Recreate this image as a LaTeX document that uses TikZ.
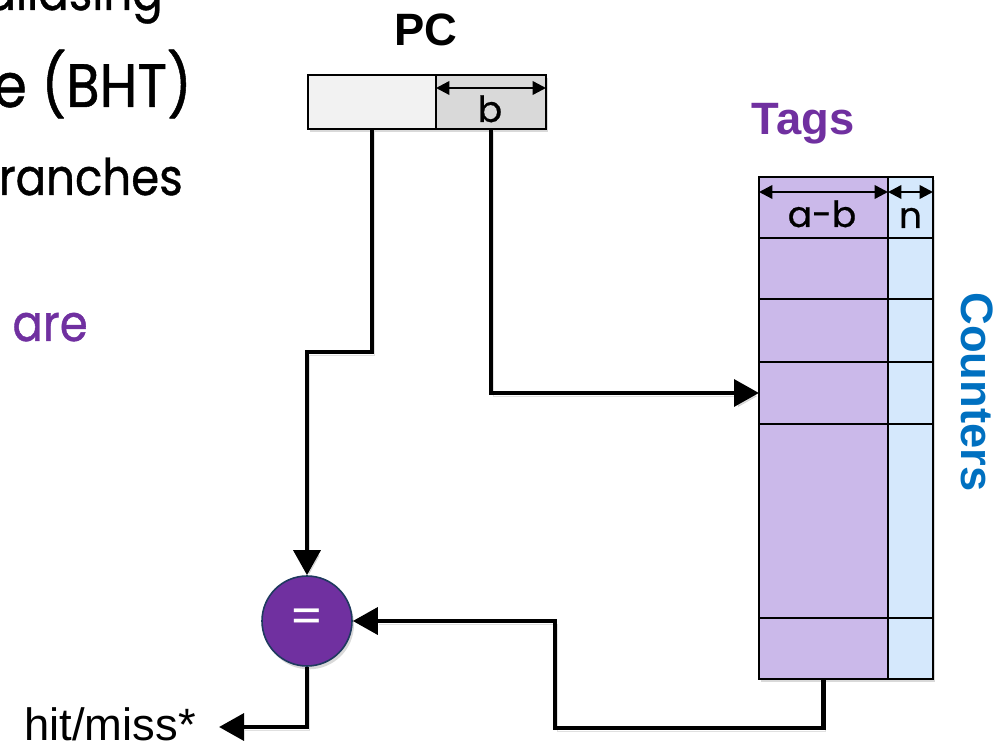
\documentclass[tikz,border=0pt]{standalone}
\usepackage{fontspec}
\setmainfont{Liberation Sans}
\newfontfamily\fut[FakeStretch=0.89,FakeBold=0.8]{Poppins}
\newfontfamily\futw[FakeBold=0.6]{Poppins}
\newfontfamily\futl{Poppins}
\usetikzlibrary{arrows.meta,shadows,calc}
\definecolor{ppl}{HTML}{7030A0}
\definecolor{blu}{HTML}{0070C0}
\definecolor{tagfill}{RGB}{203,185,234}
\definecolor{cntfill}{RGB}{213,232,252}
\definecolor{pcl}{HTML}{F2F2F2}
\definecolor{pcr}{HTML}{D9D9D9}
\definecolor{navy}{HTML}{1F3A5F}
\begin{document}
\begin{tikzpicture}[x=0.75pt,y=-0.75pt,
  box/.style={draw=black, line width=1.8pt, inner sep=0pt, outer sep=0pt, anchor=north west},
  cellT/.style={box, fill=tagfill, minimum width=96.75pt},
  cellC/.style={box, fill=cntfill, minimum width=33.75pt},
  shad/.style={drop shadow={opacity=0.3, shadow xshift=1.5pt, shadow yshift=-2.5pt}},
  lshad/.style={preaction={draw=black, opacity=0.12, transform canvas={shift={(1.5pt,-2.5pt)}}}},
  conn/.style={lshad, line width=3.3pt, -{Triangle[length=18.75pt,width=20pt]}},
  dimarr/.style={line width=1.8pt, {Triangle[length=10pt,width=10pt]}-{Triangle[length=10pt,width=10pt]}},
  bigtxt/.style={font=\fut\fontsize{46}{50}\selectfont, inner sep=0pt, anchor=base east},
  midtxt/.style={font=\fut\fontsize{38}{42}\selectfont, inner sep=0pt, anchor=base east},
  lab/.style={font=\bfseries\fontsize{34}{40}\selectfont, inner sep=0pt, anchor=base},
  small/.style={font=\futw\fontsize{27}{30}\selectfont, inner sep=0pt, anchor=base}
]
\useasboundingbox (0,0) rectangle (1006,748);
\clip (0,0) rectangle (1006,748);

% slide text fragments
\node[midtxt] (t1) at (163,10) {aliasing};
\node[bigtxt] (t2) at (192,107) {e (BHT)};
\node[midtxt] (t3) at (183,195) {ranches};
\node[midtxt, text=ppl] (t4) at (88,341) {are};

% PC register
\node[lab] (pclab) at (426,46) {PC};
\node[box, fill=pcl, minimum width=96pt, minimum height=40.5pt, shad] (pcl) at (308,75) {};
\node[box, fill=pcr, minimum width=82.5pt, minimum height=40.5pt, shad] (pcr) at (436,75) {};
\draw[dimarr] ($(pcr.north west)+(0,13)$) -- ($(pcr.north east)+(0,13)$);
\node[small] (blab) at (490,122) {b};

% table
\node[lab, text=ppl] (tags) at (803,135) {Tags};
\node[box, draw=none, fill=tagfill, minimum width=130.5pt, minimum height=376.5pt, shad] (tbl) at (759,177) {};
\foreach \i/\y/\h in {0/177/45.75, 1/238/45.75, 2/299/47.25, 3/362/46.5, 4/424/145.5, 5/618/45.75} {
  \node[cellT, minimum height=\h pt] (tag\i) at (759,\y) {};
  \node[cellC, minimum height=\h pt] (cnt\i) at (888,\y) {};
}
\draw[dimarr] ($(tag0.north west)+(0,15)$) -- ($(tag0.north east)+(0,15)$);
\draw[dimarr] ($(cnt0.north west)+(0,15)$) -- ($(cnt0.north east)+(0,15)$);
\node[small] (ablab) at (822,227) {a-b};
\node[small] (nlab) at (910.5,228) {n};
\node[lab, text=blu, rotate=-90] (cnts) at (961,392) {Counters};

% comparator
\node[circle, fill=ppl, draw=navy, line width=1.2pt, minimum size=67.5pt, inner sep=0pt, shad,
      text=white, font=\futl\fontsize{36}{36}\selectfont] (eq) at (307,621) {=};

% output label
\node[font=\fontsize{34}{40}\selectfont, inner sep=0pt, anchor=base east] (hit) at (196,740) {hit/miss*};
\coordinate (hm) at (219,727);
\coordinate (bend) at (555,728);

% connectors
\draw[conn] (pcl.south) -- ++(0,223) -| (eq.north);
\draw[conn] (pcr.south) |- (tag3.west);
\draw[conn] (tag5.south) |- (bend) |- (eq.east);
\draw[conn] (eq.south) |- (hm);
\end{tikzpicture}
\end{document}
